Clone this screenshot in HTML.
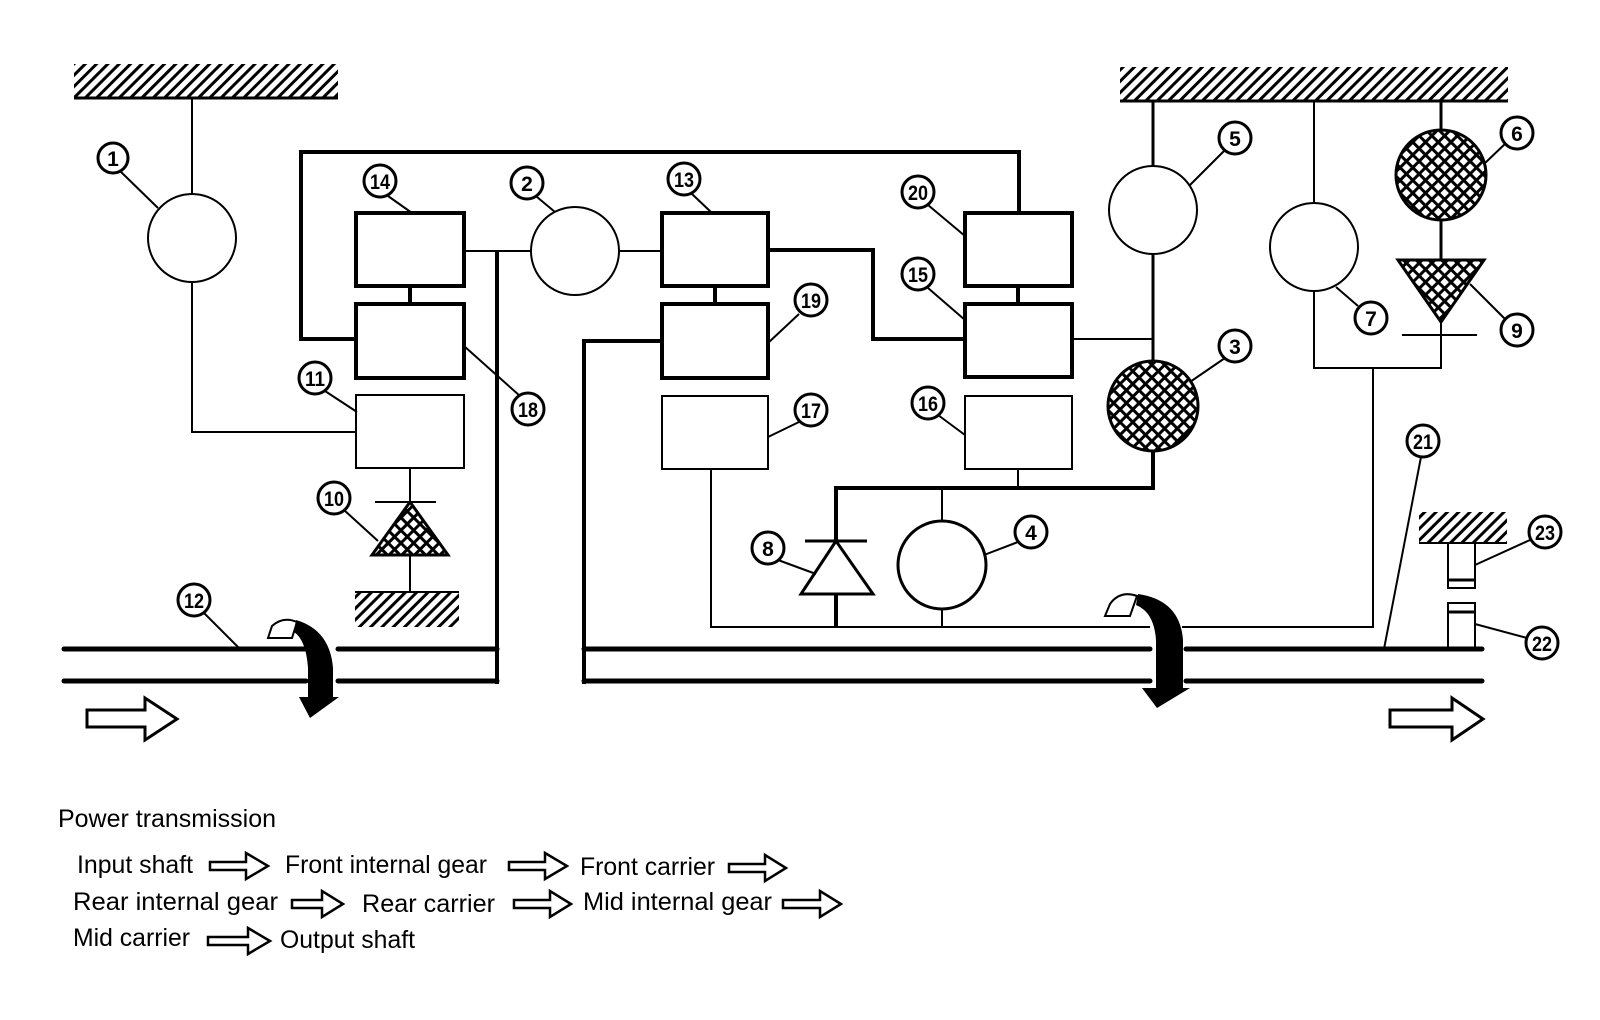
<!DOCTYPE html>
<html><head><meta charset="utf-8"><style>html,body{margin:0;padding:0;background:#fff;}svg{display:block;}</style></head>
<body>
<svg width="1600" height="1020" viewBox="0 0 1600 1020" xmlns="http://www.w3.org/2000/svg" font-family="Liberation Sans, sans-serif">
<defs>
<pattern id="hatch" width="8" height="8" patternUnits="userSpaceOnUse" patternTransform="rotate(45)">
<rect width="8" height="8" fill="#fff"/><rect x="0" y="0" width="3" height="8" fill="#000"/>
</pattern>
<pattern id="xh" width="9" height="9" patternUnits="userSpaceOnUse" patternTransform="rotate(45)">
<rect width="9" height="9" fill="#fff"/><rect x="0" y="0" width="3" height="9" fill="#000"/><rect x="0" y="0" width="9" height="3" fill="#000"/>
</pattern>
</defs>
<g stroke="#000" fill="none" stroke-width="2">
<rect x="74" y="64" width="264" height="34" fill="url(#hatch)" stroke="none"/>
<line x1="74" y1="98" x2="338" y2="98" stroke-width="3"/>
<rect x="1120" y="67" width="388" height="34" fill="url(#hatch)" stroke="none"/>
<line x1="1120" y1="101" x2="1508" y2="101" stroke-width="3"/>
<rect x="355" y="592" width="104" height="35" fill="url(#hatch)" stroke="none"/>
<line x1="355" y1="592" x2="459" y2="592" stroke-width="2"/>
<rect x="1419" y="512" width="88" height="31" fill="url(#hatch)" stroke="none"/>
<line x1="1419" y1="543" x2="1507" y2="543" stroke-width="2"/>

<line x1="192" y1="98" x2="192" y2="194"/>
<circle cx="192" cy="238" r="44"/>
<polyline points="192,282 192,432 356,432"/>

<polyline points="356,339 301,339 301,152 1019,152 1019,213" stroke-width="4"/>
<g stroke-width="4">
<rect x="356" y="213" width="108" height="73"/>
<rect x="356" y="304" width="108" height="74"/>
<rect x="662" y="213" width="106" height="73"/>
<rect x="662" y="304" width="106" height="74"/>
<rect x="965" y="213" width="107" height="73"/>
<rect x="965" y="304" width="107" height="73"/>
<line x1="410" y1="286" x2="410" y2="304"/>
<line x1="715" y1="286" x2="715" y2="304"/>
<line x1="1018" y1="286" x2="1018" y2="304"/>
</g>
<rect x="356" y="395" width="108" height="73"/>
<rect x="662" y="396" width="106" height="73"/>
<rect x="965" y="396" width="107" height="73"/>

<line x1="464" y1="251" x2="531" y2="251"/>
<circle cx="575" cy="251" r="44"/>
<line x1="619" y1="251" x2="662" y2="251"/>
<line x1="497" y1="251" x2="497" y2="684" stroke-width="4"/>
<polyline points="768,250 873,250 873,339 965,339" stroke-width="4"/>
<polyline points="662,341 584,341 584,684" stroke-width="4"/>
<line x1="1072" y1="339" x2="1153" y2="339"/>

<line x1="410" y1="468" x2="410" y2="502"/>
<line x1="375" y1="502" x2="436" y2="502"/>
<polygon points="410,502 372,555 448,555" fill="url(#xh)" stroke-width="3"/>
<line x1="410" y1="555" x2="410" y2="592"/>

<line x1="1153" y1="101" x2="1153" y2="166" stroke-width="3"/>
<circle cx="1153" cy="210" r="44"/>
<line x1="1153" y1="254" x2="1153" y2="361" stroke-width="3"/>
<circle cx="1153" cy="406" r="45" fill="url(#xh)" stroke-width="3"/>
<polyline points="1153,451 1153,488 836,488 836,541" stroke-width="4"/>
<line x1="1018" y1="469" x2="1018" y2="488"/>
<line x1="942" y1="488" x2="942" y2="521"/>
<circle cx="942" cy="565" r="44" stroke-width="3"/>
<line x1="942" y1="609" x2="942" y2="627"/>
<line x1="805" y1="541" x2="867" y2="541" stroke-width="3"/>
<polygon points="836,541 801,594 873,594" stroke-width="3"/>
<line x1="836" y1="594" x2="836" y2="627" stroke-width="4"/>
<polyline points="711,469 711,627 1373,627 1373,368"/>
<polyline points="1314,291 1314,368 1441,368 1441,335"/>
<line x1="1314" y1="101" x2="1314" y2="203"/>
<circle cx="1314" cy="247" r="44"/>
<line x1="1441" y1="101" x2="1441" y2="130" stroke-width="3"/>
<ellipse cx="1441" cy="175" rx="45" ry="45" fill="url(#xh)" stroke-width="3"/>
<line x1="1441" y1="220" x2="1441" y2="260" stroke-width="3"/>
<polygon points="1398,260 1484,260 1441,322" fill="url(#xh)" stroke-width="3"/>
<line x1="1441" y1="322" x2="1441" y2="335"/>
<line x1="1402" y1="335" x2="1477" y2="335"/>

<rect x="1448" y="543" width="27" height="45"/>
<line x1="1448" y1="580" x2="1475" y2="580" stroke-width="3"/>
<rect x="1448" y="603" width="27" height="47"/>
<line x1="1448" y1="612" x2="1475" y2="612" stroke-width="3"/>

<g stroke-width="5" stroke-linecap="round">
<line x1="64" y1="649" x2="306" y2="649"/>
<line x1="338" y1="649" x2="497" y2="649"/>
<line x1="64" y1="681" x2="306" y2="681"/>
<line x1="338" y1="681" x2="497" y2="681"/>
<line x1="584" y1="649" x2="1150" y2="649"/>
<line x1="1186" y1="649" x2="1482" y2="649"/>
<line x1="584" y1="681" x2="1150" y2="681"/>
<line x1="1186" y1="681" x2="1482" y2="681"/>
</g>
<line x1="1150" y1="627" x2="1182" y2="627" stroke="#fff" stroke-width="4"/>

<path d="M268,638 L292,638 L297,622 Q283,616 272,626 Z" stroke-width="2" fill="#fff"/>
<path d="M296,620 Q330,630 333,668 L333,697 L339,697 L310,718 L299,697 L308,697 L308,668 Q306,640 294,632 Z" fill="#000" stroke="none"/>
<path d="M1105,616 L1130,616 L1137,596 Q1120,590 1110,604 Z" stroke-width="2" fill="#fff"/>
<path d="M1138,594 Q1180,600 1183,640 L1183,688 L1190,688 L1157,708 L1142,688 L1156,688 L1156,640 Q1154,612 1136,605 Z" fill="#000" stroke="none"/>

<polygon points="87,710 145,710 145,698 177,719 145,740 145,727 87,727" stroke-width="3"/>
<polygon points="1390,710 1452,710 1452,698 1483,719 1452,740 1452,727 1390,727" stroke-width="3"/>

<line x1="120" y1="171" x2="158" y2="208"/>
<line x1="388" y1="196" x2="412" y2="213"/>
<line x1="537" y1="197" x2="555" y2="212"/>
<line x1="692" y1="194" x2="712" y2="213"/>
<line x1="464" y1="346" x2="520" y2="396"/>
<line x1="325" y1="391" x2="357" y2="412"/>
<line x1="344" y1="510" x2="378" y2="541"/>
<line x1="204" y1="613" x2="240" y2="649"/>
<line x1="799" y1="314" x2="768" y2="343"/>
<line x1="799" y1="422" x2="768" y2="437"/>
<line x1="778" y1="560" x2="816" y2="574"/>
<line x1="928" y1="205" x2="965" y2="236"/>
<line x1="928" y1="288" x2="965" y2="320"/>
<line x1="938" y1="415" x2="965" y2="435"/>
<line x1="1225" y1="150" x2="1189" y2="186"/>
<line x1="1225" y1="358" x2="1190" y2="382"/>
<line x1="1506" y1="143" x2="1484" y2="164"/>
<line x1="1358" y1="306" x2="1336" y2="287"/>
<line x1="1506" y1="320" x2="1470" y2="284"/>
<line x1="1018" y1="542" x2="984" y2="555"/>
<line x1="1421" y1="457" x2="1384" y2="649"/>
<line x1="1530" y1="540" x2="1475" y2="565"/>
<line x1="1527" y1="638" x2="1475" y2="624"/>
</g>

<g stroke="#000" stroke-width="3" fill="#fff">
<circle cx="113" cy="158" r="15"/><circle cx="380" cy="181" r="16"/><circle cx="527" cy="183" r="16"/>
<circle cx="684" cy="179" r="16"/><circle cx="528" cy="409" r="16"/><circle cx="315" cy="378" r="16"/>
<circle cx="334" cy="498" r="16"/><circle cx="194" cy="600" r="16"/><circle cx="811" cy="300" r="16"/>
<circle cx="811" cy="410" r="16"/><circle cx="768" cy="548" r="16"/><circle cx="918" cy="192" r="16"/>
<circle cx="918" cy="274" r="16"/><circle cx="928" cy="403" r="16"/><circle cx="1235" cy="138" r="16"/>
<circle cx="1235" cy="346" r="16"/><circle cx="1517" cy="133" r="16"/><circle cx="1371" cy="318" r="16"/>
<circle cx="1517" cy="330" r="16"/><circle cx="1031" cy="532" r="16"/><circle cx="1423" cy="441" r="16"/>
<circle cx="1545" cy="532" r="16"/><circle cx="1542" cy="643" r="16"/>
</g>
<g font-weight="bold" font-size="21" text-anchor="middle" fill="#000">
<text x="113" y="166">1</text>
<text x="380" y="189" textLength="20" lengthAdjust="spacingAndGlyphs">14</text>
<text x="527" y="191">2</text>
<text x="684" y="187" textLength="20" lengthAdjust="spacingAndGlyphs">13</text>
<text x="528" y="417" textLength="20" lengthAdjust="spacingAndGlyphs">18</text>
<text x="315" y="386" textLength="20" lengthAdjust="spacingAndGlyphs">11</text>
<text x="334" y="506" textLength="20" lengthAdjust="spacingAndGlyphs">10</text>
<text x="194" y="608" textLength="20" lengthAdjust="spacingAndGlyphs">12</text>
<text x="811" y="308" textLength="20" lengthAdjust="spacingAndGlyphs">19</text>
<text x="811" y="418" textLength="20" lengthAdjust="spacingAndGlyphs">17</text>
<text x="768" y="556">8</text>
<text x="918" y="200" textLength="20" lengthAdjust="spacingAndGlyphs">20</text>
<text x="918" y="282" textLength="20" lengthAdjust="spacingAndGlyphs">15</text>
<text x="928" y="411" textLength="20" lengthAdjust="spacingAndGlyphs">16</text>
<text x="1235" y="146">5</text>
<text x="1235" y="354">3</text>
<text x="1517" y="141">6</text>
<text x="1371" y="326">7</text>
<text x="1517" y="338">9</text>
<text x="1031" y="540">4</text>
<text x="1423" y="449" textLength="20" lengthAdjust="spacingAndGlyphs">21</text>
<text x="1545" y="540" textLength="20" lengthAdjust="spacingAndGlyphs">23</text>
<text x="1542" y="651" textLength="20" lengthAdjust="spacingAndGlyphs">22</text>
</g>

<g font-size="25" fill="#000">
<text x="58" y="827" textLength="218" lengthAdjust="spacingAndGlyphs">Power transmission</text>
<text x="77" y="873" textLength="116" lengthAdjust="spacingAndGlyphs">Input shaft</text>
<text x="285" y="873" textLength="202" lengthAdjust="spacingAndGlyphs">Front internal gear</text>
<text x="580" y="875" textLength="135" lengthAdjust="spacingAndGlyphs">Front carrier</text>
<text x="73" y="910" textLength="205" lengthAdjust="spacingAndGlyphs">Rear internal gear</text>
<text x="362" y="912" textLength="133" lengthAdjust="spacingAndGlyphs">Rear carrier</text>
<text x="583" y="910" textLength="189" lengthAdjust="spacingAndGlyphs">Mid internal gear</text>
<text x="73" y="946" textLength="117" lengthAdjust="spacingAndGlyphs">Mid carrier</text>
<text x="280" y="948" textLength="135" lengthAdjust="spacingAndGlyphs">Output shaft</text>
</g>
<g stroke="#000" stroke-width="2.5" fill="#fff">
<polygon points="210,862 246,862 246,853 268,866 246,879 246,870 210,870"/>
<polygon points="509,862 545,862 545,853 567,866 545,879 545,870 509,870"/>
<polygon points="729,864 765,864 765,855 786,868 765,881 765,872 729,872"/>
<polygon points="292,900 322,900 322,891 343,904 322,917 322,908 292,908"/>
<polygon points="514,900 550,900 550,891 571,904 550,917 550,908 514,908"/>
<polygon points="783,900 820,900 820,891 841,904 820,917 820,908 783,908"/>
<polygon points="208,937 248,937 248,928 270,941 248,954 248,945 208,945"/>
</g>
</svg>
</body></html>
